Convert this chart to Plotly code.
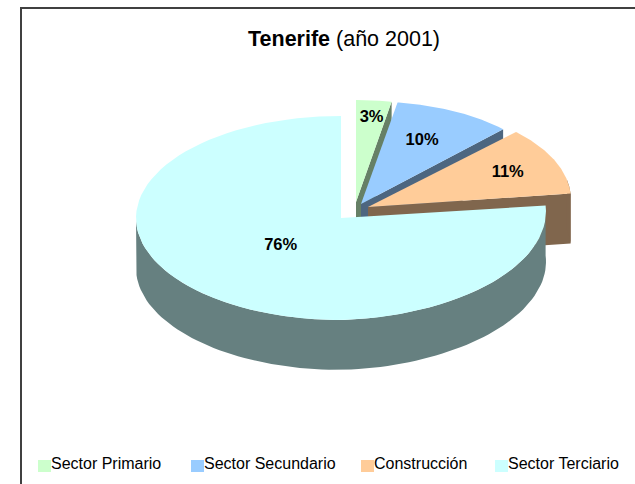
import numpy as np
import plotly.graph_objects as go

# Data
categories = ["Sector Primario", "Sector Secundario", "Construcción", "Sector Terciario"]
values = [3, 10, 11, 76]

# Styles
top_colors = ["#CCFFCC", "#99CCFF", "#FFCC99", "#CCFFFF"]
side_colors = ["#668066", "#4D6680", "#80664D", "#668080"]
title_html = "<b>Tenerife</b> (año 2001)"

# Pie geometry (in page pixels)
RY, DEPTH = 102.0, 50.0
radii_x = [190.0, 195.0, 203.0, 205.0]
apexes = [(356, 202), (361, 204), (368, 207), (341, 218)]
tilt = [0.0, 0.035, 0.035, 0.03]
label_fx = [0.87, 0.65, 0.75, 0.43]
label_fy = [0.85, 0.73, 0.90, 0.35]
LABEL_DY = 2
legend_x = [38, 191, 361, 495]
LEGEND_Y = 466
SWATCH = 13

fig = go.Figure()


def rim(i, a0, a1, n=90):
    """Outer edge of slice i between angles a0..a1 (radians clockwise from top)."""
    ax, ay = apexes[i]
    t = np.linspace(a0, a1, n)
    dx = radii_x[i] * np.sin(t)
    return ax + dx, ay - RY * np.cos(t) - tilt[i] * np.maximum(dx, 0)


def poly(xs, ys, color):
    fig.add_trace(go.Scatter(x=list(xs), y=list(ys), mode="lines", fill="toself",
                             fillcolor=color, line=dict(width=0, color=color),
                             hoverinfo="skip", showlegend=False))


total = sum(values)
edges = np.concatenate([[0], np.cumsum(values)]) / total * 2 * np.pi
for i in range(len(values)):
    a0, a1 = edges[i], edges[i + 1]
    ax, ay = apexes[i]
    xr, yr = rim(i, a0, a1)
    # cut face at the clockwise end of the slice
    if a1 < np.pi:
        poly([ax, xr[-1], xr[-1], ax], [ay, yr[-1], yr[-1] + DEPTH, ay + DEPTH], side_colors[i])
    # outer wall (only the part that faces the viewer)
    lo, hi = max(a0, np.pi / 2 - 0.2), min(a1, 3 * np.pi / 2)
    if hi > lo:
        xw, yw = rim(i, lo, hi)
        poly(np.r_[xw, xw[::-1]], np.r_[yw, yw[::-1] + DEPTH], side_colors[i])
    # top face
    poly(np.r_[ax, xr], np.r_[ay, yr], top_colors[i])

# Percentage labels
for i, v in enumerate(values):
    mid = (edges[i] + edges[i + 1]) / 2
    ax, ay = apexes[i]
    fig.add_trace(go.Scatter(
        x=[ax + label_fx[i] * radii_x[i] * np.sin(mid)],
        y=[ay - label_fy[i] * RY * np.cos(mid) + LABEL_DY],
        mode="text", text=[f"<b>{round(v / total * 100)}%</b>"], textposition="middle center",
        textfont=dict(family="Liberation Sans", size=16.5, color="#000000"),
        hoverinfo="skip", showlegend=False))

# Legend
for i, name in enumerate(categories):
    fig.add_shape(type="rect", x0=legend_x[i], x1=legend_x[i] + SWATCH,
                  y0=LEGEND_Y - 6, y1=LEGEND_Y + 6, fillcolor=top_colors[i], line_width=0)
    fig.add_trace(go.Scatter(
        x=[legend_x[i] + SWATCH], y=[LEGEND_Y - 1], mode="text", text=[name],
        textposition="middle right",
        textfont=dict(family="Liberation Sans", size=16, color="#000000"),
        hoverinfo="skip", showlegend=False))

# Frame
fig.add_shape(type="line", x0=21, x1=21, y0=8, y1=484, line=dict(color="#404040", width=2))
fig.add_shape(type="line", x0=20, x1=635, y0=8, y1=8, line=dict(color="#404040", width=2))

fig.add_annotation(x=343.5, y=39, text=title_html, showarrow=False, xanchor="center", yanchor="middle",
                   font=dict(family="Liberation Sans", size=21.5, color="#000000"))

fig.update_xaxes(range=[0, 635], visible=False, fixedrange=True)
fig.update_yaxes(range=[484, 0], visible=False, fixedrange=True)
fig.update_layout(width=635, height=484, margin=dict(l=0, r=0, t=0, b=0),
                  paper_bgcolor="#FFFFFF", plot_bgcolor="#FFFFFF", showlegend=False)
fig.write_html("out.html", config={"displayModeBar": False},
               post_script="document.body.style.margin='0';document.body.style.overflow='hidden';")
